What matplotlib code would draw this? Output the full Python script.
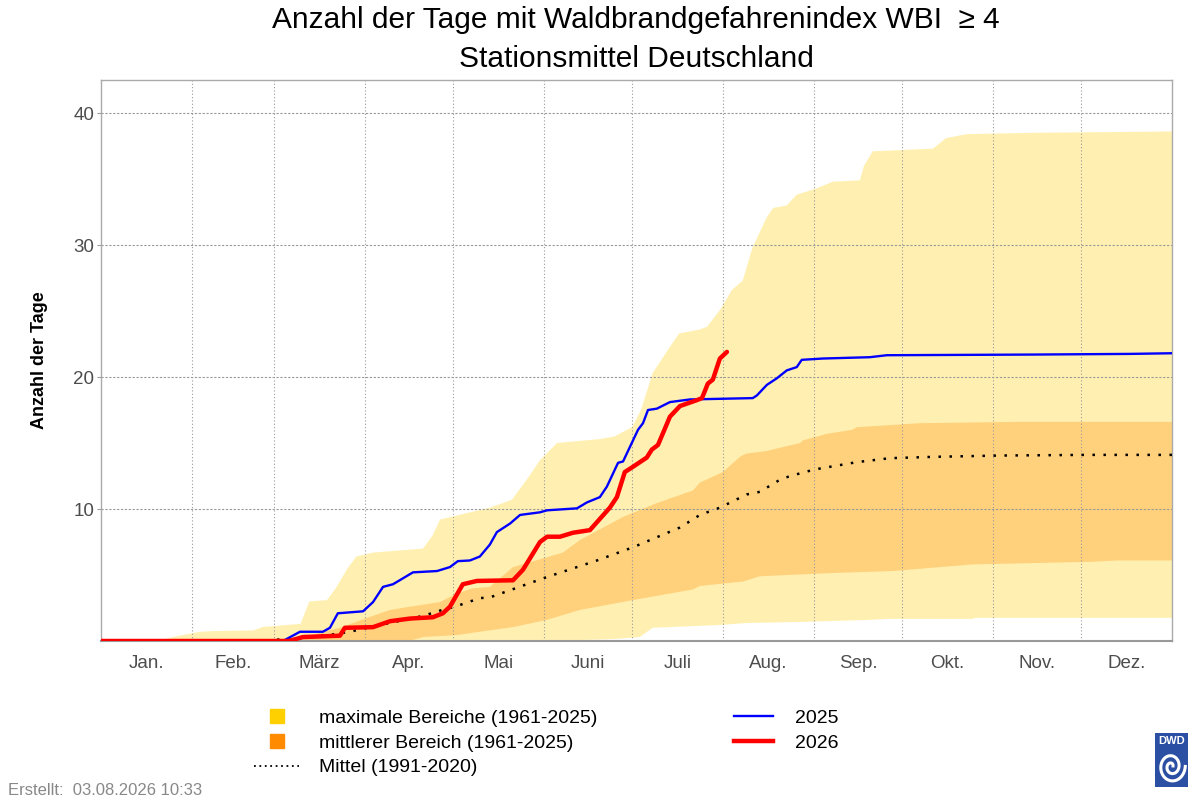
import numpy as np
import matplotlib
matplotlib.use("Agg")
import matplotlib.pyplot as plt
from matplotlib.lines import Line2D

plt.rcParams['font.family'] = ['Liberation Sans', 'DejaVu Sans']

# day of year / value pairs
max_upper_day = [0, 15, 21, 24.5, 33.7, 38, 52, 55, 68, 71, 77, 80, 84, 87, 92.7, 109.7, 113, 115.5,
                 126.7, 132.5, 140, 145, 149.6, 155.4, 170, 175, 181, 184, 188, 193, 197, 204, 206.5,
                 211, 215, 218.7, 222, 226.9, 229, 233.7, 237, 244, 249.4, 258.6, 260, 263, 283.5,
                 288, 295, 317, 365]
max_upper_val = [0, 0, 0.1, 0.3, 0.7, 0.75, 0.8, 1.06, 1.3, 3.0, 3.1, 4.0, 5.5, 6.4, 6.7, 7.0, 8.0, 9.2,
                 9.8, 10.1, 10.7, 12.2, 13.7, 15.0, 15.3, 15.5, 16.2, 17.5, 20.3, 22.0, 23.3, 23.6, 23.8,
                 25.1, 26.6, 27.3, 29.8, 32.1, 32.8, 33.0, 33.8, 34.3, 34.8, 34.9, 36.0, 37.1, 37.3,
                 38.1, 38.4, 38.5, 38.6]

max_lower_day = [0, 150, 160, 175, 183.6, 188, 210, 220, 238, 262, 268, 297, 298, 365]
max_lower_val = [0, 0, 0.05, 0.15, 0.3, 1.0, 1.2, 1.36, 1.44, 1.6, 1.67, 1.67, 1.75, 1.75]

mid_upper_day = [0, 60, 70, 75.6, 81.4, 90.6, 98.5, 105.3, 115.5, 121.3, 126.7, 132.5, 140.4, 157.4,
                 163.2, 177.9, 189.4, 201.7, 204.1, 211.9, 218, 220, 226.9, 238.2, 239.2, 247.4, 256,
                 257.6, 279, 312, 365]
mid_upper_val = [0, 0, 0.3, 0.7, 1.0, 1.75, 2.35, 2.6, 2.95, 3.6, 4.0, 4.1, 5.6, 6.7,
                 7.65, 9.4, 10.45, 11.4, 12.0, 12.8, 14.0, 14.2, 14.4, 15.0, 15.2, 15.7, 16.0,
                 16.2, 16.5, 16.6, 16.6]

mid_lower_day = [0, 105, 109.7, 121.3, 129, 140.4, 152, 163.2, 181.3, 201.7, 204.1, 218.7, 224.5,
                 249.4, 269.8, 297.1, 338, 346.2, 365]
mid_lower_val = [0, 0, 0.3, 0.45, 0.7, 1.05, 1.6, 2.35, 3.1, 3.9, 4.17, 4.5, 4.9,
                 5.15, 5.3, 5.8, 6.0, 6.1, 6.1]

mean_day = [0, 55, 60, 79, 84.8, 92.7, 109.7, 115.5, 121.3, 129.1, 132.5, 152, 169, 181.3, 197.3,
            204.1, 210.9, 220, 224.5, 232, 238.2, 243.3, 257.6, 268.8, 283.5, 306.3, 335.9, 365]
mean_val = [0, 0, 0.1, 0.5, 0.7, 1.1, 1.9, 2.3, 2.65, 3.25, 3.3, 4.85, 6.1, 7.1, 8.6,
            9.55, 10.1, 11.1, 11.3, 12.3, 12.7, 13.0, 13.55, 13.85, 13.95, 14.05, 14.1, 14.1]

y2025_day = [0, 62, 67.8, 75.6, 78, 80.7, 89.3, 92.7, 96.1, 99.5, 102.9, 106.3, 114.5, 118.9, 121.6,
             125.7, 129.1, 132.5, 134.9, 139.4, 142.8, 149.6, 152, 162.2, 165.6, 170, 172.4, 176.2,
             177.9, 181.3, 183, 184.7, 186.4, 189.4, 193.9, 200.7, 222.1, 223.5, 226.9, 230.3,
             233.7, 237.1, 238.8, 246, 262, 267.8, 317.5, 350.6, 365]
y2025_val = [0, 0, 0.7, 0.7, 1.0, 2.1, 2.25, 2.95, 4.1, 4.3, 4.75, 5.2, 5.3, 5.6, 6.05,
             6.1, 6.4, 7.3, 8.25, 8.9, 9.55, 9.75, 9.9, 10.05, 10.5, 10.9, 11.7, 13.5,
             13.6, 15.2, 16.0, 16.5, 17.5, 17.6, 18.1, 18.3, 18.4, 18.6, 19.4, 19.9,
             20.5, 20.75, 21.3, 21.4, 21.5, 21.65, 21.7, 21.75, 21.8]

y2026_day = [0, 64, 68.8, 81.4, 83.1, 92.7, 98.5, 105.3, 113.1, 116.5, 118.9, 123.3, 128.1, 140.4,
             143.8, 149.6, 152, 156.4, 160.8, 166.6, 169, 173.4, 175.8, 178.5, 181.3, 186, 187.7,
             189.8, 193.9, 197.3, 203.1, 204.8, 206.8, 208.5, 210.9, 213.3]
y2026_val = [0, 0, 0.3, 0.4, 1.0, 1.05, 1.5, 1.7, 1.8, 2.1, 2.6, 4.3, 4.55, 4.6,
             5.4, 7.5, 7.9, 7.9, 8.2, 8.4, 9.0, 10.1, 10.9, 12.8, 13.2, 13.9, 14.5,
             14.85, 17.0, 17.8, 18.25, 18.4, 19.5, 19.8, 21.4, 21.9]

month_start = [0, 31, 59, 90, 120, 151, 181, 212, 243, 273, 304, 334, 365]
month_names = ['Jan.', 'Feb.', 'März', 'Apr.', 'Mai', 'Juni', 'Juli', 'Aug.', 'Sep.', 'Okt.', 'Nov.', 'Dez.']

col_max = '#FFD000'
col_mid = '#FF8C00'

fig = plt.figure(figsize=(12, 8), dpi=100)
ax = fig.add_axes([0.0842, 0.19875, 0.8925, 0.70125])

# bands as polygons: upper edge forward, lower edge back
ax.fill(np.concatenate([max_upper_day, max_lower_day[::-1]]),
        np.concatenate([max_upper_val, max_lower_val[::-1]]),
        color=col_max, alpha=0.3, lw=0, zorder=1)
ax.fill(np.concatenate([mid_upper_day, mid_lower_day[::-1]]),
        np.concatenate([mid_upper_val, mid_lower_val[::-1]]),
        color=col_mid, alpha=0.3, lw=0, zorder=1.1)

ax.plot(mean_day, mean_val, color='black', lw=1.8, ls=(0, (1, 3.4)), zorder=3)
ax.plot(y2025_day, y2025_val, color='#0000FF', lw=1.7, zorder=3.1)
ax.plot(y2026_day, y2026_val, color='#FF0000', lw=3.2, zorder=3.2, solid_capstyle='round')

ax.set_xlim(0, 365)
ax.set_ylim(0, 42.5)

# grid
for d in month_start[1:-1]:
    ax.axvline(d, color='#999999', lw=0.8, ls=(0, (1, 2)), zorder=2.5)
for v in [10, 20, 30, 40]:
    ax.axhline(v, color='#999999', lw=0.8, ls=(0, (2, 1.5)), zorder=2.5)

centers = [(month_start[i] + month_start[i + 1]) / 2 for i in range(12)]
ax.set_xticks(centers)
ax.set_xticklabels(month_names, fontsize=13.5, color='#4D4D4D')
ax.tick_params(axis='x', length=0, pad=10)
ax.set_yticks([10, 20, 30, 40])
ax.set_yticklabels(['10', '20', '30', '40'], fontsize=13.5, color='#4D4D4D')
ax.tick_params(axis='y', length=3, color='#999999', pad=2)

for s in ['top', 'right', 'left']:
    ax.spines[s].set_color('#AAAAAA')
    ax.spines[s].set_linewidth(1.0)
ax.spines['bottom'].set_color('#999999')
ax.spines['bottom'].set_linewidth(1.5)

ax.set_ylabel('Anzahl der Tage', fontsize=13, fontweight='bold', labelpad=18)

fig.text(0.53, 0.975, 'Anzahl der Tage mit Waldbrandgefahrenindex WBI  \u2265 4',
         ha='center', va='center', fontsize=21.5)
fig.text(0.53, 0.926, 'Stationsmittel Deutschland', ha='center', va='center', fontsize=21.5)

h1 = [Line2D([], [], marker='s', ls='none', color=col_max, markersize=10),
      Line2D([], [], marker='s', ls='none', color=col_mid, markersize=10),
      Line2D([], [], color='black', lw=1.3, ls=(0, (1, 2)))]
fig.legend(h1, ['maximale Bereiche (1961-2025)', 'mittlerer Bereich (1961-2025)', 'Mittel (1991-2020)'],
           loc='upper left', bbox_to_anchor=(0.212, 0.113), frameon=False, fontsize=14,
           handlelength=2.3, handletextpad=1.0, labelspacing=0.36, borderpad=0, borderaxespad=0)
h2 = [Line2D([], [], color='#0000FF', lw=1.7),
      Line2D([], [], color='#FF0000', lw=3.2)]
fig.legend(h2, ['2025', '2026'], loc='upper left', bbox_to_anchor=(0.612, 0.113), frameon=False,
           fontsize=14, handlelength=2.0, handletextpad=1.1, labelspacing=0.36, borderpad=0,
           borderaxespad=0)

fig.text(0.007, 0.002, 'Erstellt:  03.08.2026 10:33', fontsize=12, color='#888888', ha='left', va='bottom')

# DWD logo
lax = fig.add_axes([0.9625, 0.01625, 0.0275, 0.0675])
lax.set_xlim(0, 1)
lax.set_ylim(0, 1)
lax.set_facecolor('#2B4FA2')
for s in lax.spines.values():
    s.set_visible(False)
lax.set_xticks([])
lax.set_yticks([])
lax.text(0.5, 0.86, 'DWD', color='white', fontsize=8, fontweight='bold', ha='center', va='center')
t = np.linspace(0.3, 4.0 * np.pi, 200)
r = 0.04 + 0.03 * t
lax.plot(0.5 + r * np.cos(t), 0.38 + r * np.sin(t) * 0.72, color='white', lw=2.2)

fig.savefig('out.png', dpi=100)
